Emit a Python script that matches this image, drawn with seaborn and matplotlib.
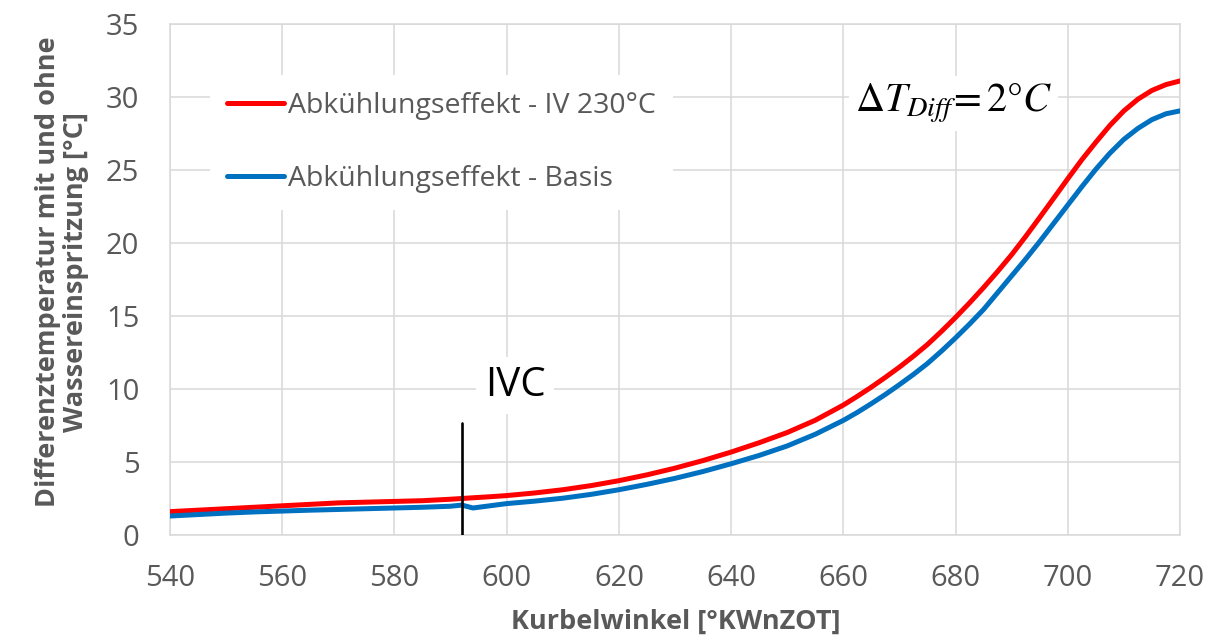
import numpy as np
import pandas as pd
import matplotlib
matplotlib.use("Agg")
import matplotlib.pyplot as plt
import seaborn as sns

# Crank angle [°KWnZOT] and cooling effect curves [°C]
angle = [540, 545, 550, 555, 560, 565, 570, 575, 580, 585, 590, 592, 594, 597,
         600, 605, 610, 615, 620, 625, 630, 635, 640, 645, 650, 655,
         660, 662.5, 665, 667.5, 670, 672.5, 675, 677.5, 680, 682.5, 685, 687.5,
         690, 692.5, 695, 697.5, 700, 702.5, 705, 707.5, 710, 712.5, 715, 717.5, 720]
effect_iv230 = [1.6, 1.7, 1.8, 1.9, 2.0, 2.1, 2.2, 2.25, 2.3, 2.35, 2.45, 2.5, 2.55, 2.62,
                2.7, 2.88, 3.1, 3.38, 3.72, 4.12, 4.58, 5.1, 5.68, 6.32, 7.02, 7.86,
                8.9, 9.5, 10.13, 10.8, 11.5, 12.25, 13.05, 13.95, 14.9, 15.9, 16.95, 18.05,
                19.2, 20.45, 21.75, 23.07, 24.4, 25.7, 26.9, 28.05, 29.05, 29.85, 30.45, 30.85, 31.1]
effect_basis = [1.3, 1.4, 1.5, 1.58, 1.64, 1.7, 1.75, 1.8, 1.85, 1.9, 1.97, 2.05, 1.85, 2.0,
                2.15, 2.32, 2.52, 2.78, 3.1, 3.47, 3.88, 4.35, 4.88, 5.45, 6.1, 6.9,
                7.85, 8.4, 9.0, 9.63, 10.3, 11.0, 11.75, 12.6, 13.5, 14.45, 15.45, 16.6,
                17.75, 18.9, 20.1, 21.35, 22.6, 23.85, 25.05, 26.15, 27.1, 27.85, 28.45, 28.85, 29.05]

series_names = ["Abkühlungseffekt - IV 230°C", "Abkühlungseffekt - Basis"]
series_colors = ["#FF0000", "#0070C0"]

x_ticks = [540, 560, 580, 600, 620, 640, 660, 680, 700, 720]
y_ticks = [0, 5, 10, 15, 20, 25, 30, 35]

ivc_angle = 592
ivc_line_top = 7.7

df = pd.concat([
    pd.DataFrame({"angle": angle, "value": effect_iv230, "series": series_names[0]}),
    pd.DataFrame({"angle": angle, "value": effect_basis, "series": series_names[1]}),
], ignore_index=True)

sns.set_theme(style="white")
plt.rcParams["font.family"] = ["Open Sans", "DejaVu Sans"]
plt.rcParams["mathtext.fontset"] = "stix"

grey_text = "#595959"
grid_col = "#D9D9D9"

fig = plt.figure(figsize=(12.12, 6.37), dpi=100)
ax = fig.add_axes([170 / 1212, 1 - 535 / 637, 1010 / 1212, 511 / 637])

sns.lineplot(data=df, x="angle", y="value", hue="series", hue_order=series_names,
             palette=series_colors, linewidth=3.6, ax=ax, sort=False, zorder=3)
for ln in ax.get_lines():
    ln.set_solid_joinstyle("round")
    ln.set_solid_capstyle("round")

ax.set_xlim(540, 720)
ax.set_ylim(0, 35)
ax.set_xticks(x_ticks)
ax.set_yticks(y_ticks)
ax.grid(True, color=grid_col, linewidth=1.1, zorder=0)
ax.set_axisbelow(True)
for sp in ax.spines.values():
    sp.set_color(grid_col)
    sp.set_linewidth(1.1)
ax.tick_params(axis="both", length=0, labelsize=21, labelcolor=grey_text)
ax.tick_params(axis="x", pad=21)
ax.tick_params(axis="y", pad=22)

ax.set_xlabel("Kurbelwinkel [°KWnZOT]", fontsize=19.5, fontweight="bold", color=grey_text, va="center")
ax.xaxis.set_label_coords(0.501, -0.170)
ax.set_ylabel("Differenztemperatur mit und ohne\nWassereinspritzung [°C]", fontsize=19.5,
              fontweight="bold", color=grey_text, va="center", linespacing=1.1)
ax.yaxis.set_label_coords(-0.107, 0.515)

# IVC marker
ax.plot([ivc_angle, ivc_angle], [0, ivc_line_top], color="black", linewidth=1.9, zorder=4)
ax.text(ivc_angle + 9.5, 10.25, "IVC", fontsize=29, color="black", ha="center", va="center",
        zorder=2, bbox=dict(facecolor="white", edgecolor="none", pad=6))

# Temperature difference annotation
ax.text(0.776, 0.845, r"$\Delta T_{Diff}\!= 2\degree C$", transform=ax.transAxes,
        fontsize=29, color="black", ha="center", va="center", zorder=2,
        bbox=dict(facecolor="white", edgecolor="none", pad=4))

leg = ax.legend(loc="upper left", bbox_to_anchor=(0.0396, 0.900), borderaxespad=0,
                frameon=True, fancybox=False, edgecolor="none", facecolor="white",
                framealpha=1, fontsize=20.5, handlelength=2.0, handletextpad=0.15,
                labelspacing=1.56, borderpad=0.6, title=None)
for t in leg.get_texts():
    t.set_color(grey_text)
leg.set_zorder(2)

fig.savefig("out.png", dpi=100, facecolor="white")
